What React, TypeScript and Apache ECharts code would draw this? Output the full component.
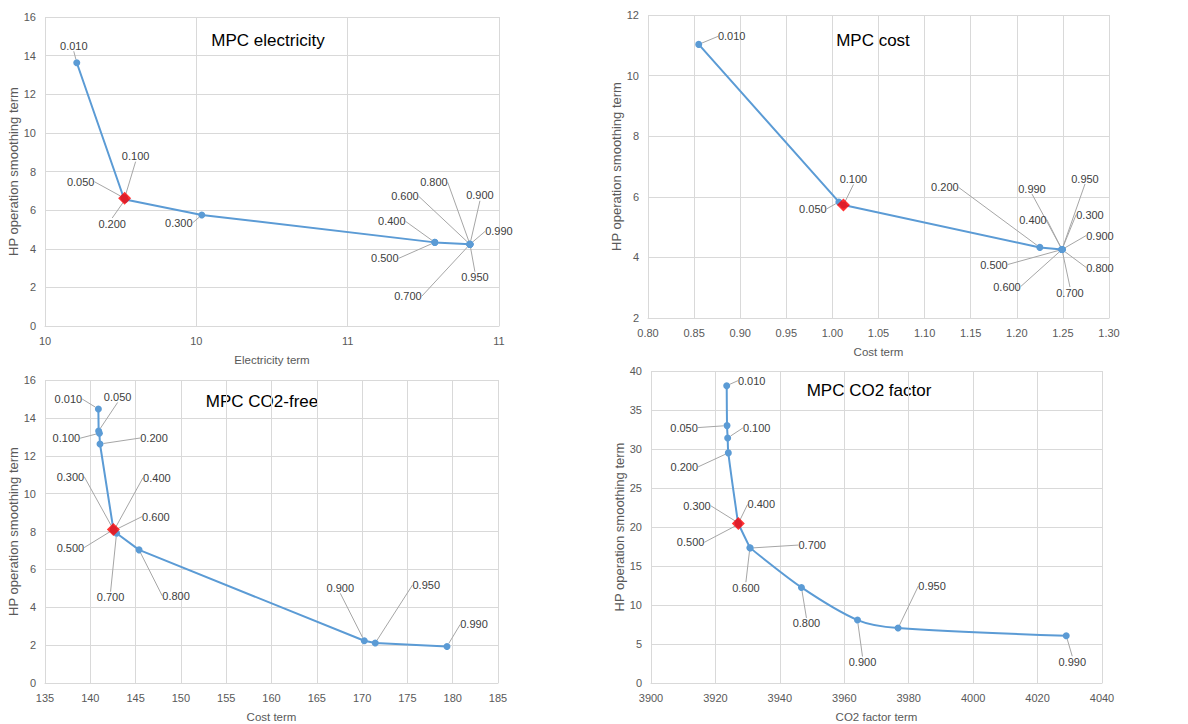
import React, { useEffect, useRef } from "react";
import * as echarts from "echarts";

const fontFamily = '"Liberation Sans", Arial, sans-serif';

// weights (label of each point)
const weights = [0.01, 0.05, 0.1, 0.2, 0.3, 0.4, 0.5, 0.6, 0.7, 0.8, 0.9, 0.95, 0.99];

// MPC electricity
const elecX = [9.605, 9.760, 9.763, 9.765, 10.018, 10.788, 10.788, 10.904, 10.904, 10.904, 10.904, 10.904, 10.904];
const elecY = [13.63, 6.64, 6.62, 6.55, 5.75, 4.33, 4.33, 4.23, 4.23, 4.23, 4.23, 4.23, 4.23];
const elecHighlight = [2];

// MPC cost
const costX = [0.855, 1.007, 1.012, 1.225, 1.249, 1.249, 1.249, 1.249, 1.249, 1.249, 1.249, 1.249, 1.249];
const costY = [11.03, 5.83, 5.73, 4.33, 4.26, 4.26, 4.26, 4.26, 4.26, 4.26, 4.26, 4.26, 4.26];
const costHighlight = [2];

// MPC CO2-free
const freeX = [140.89, 140.92, 141.0, 141.07, 142.55, 142.6, 142.55, 142.6, 142.9, 145.38, 170.24, 171.45, 179.37];
const freeY = [14.47, 13.31, 13.19, 12.62, 8.1, 8.05, 8.1, 8.05, 7.91, 7.03, 2.23, 2.11, 1.93];
const freeHighlight = [6];

// MPC CO2 factor
const fctX = [3923.5, 3923.6, 3923.8, 3924.0, 3927.0, 3927.1, 3927.2, 3930.7, 3930.8, 3946.7, 3964.1, 3976.7, 4028.9];
const fctY = [38.12, 33.0, 31.42, 29.5, 20.55, 20.45, 20.35, 17.35, 17.3, 12.25, 8.07, 7.04, 6.06];
const fctHighlight = [5];

// axis ranges
const xRanges = [
  { min: 9.5, max: 11, interval: 0.5 },
  { min: 0.8, max: 1.3, interval: 0.05 },
  { min: 135, max: 185, interval: 5 },
  { min: 3900, max: 4040, interval: 20 },
];
const yRanges = [
  { min: 0, max: 16, interval: 2 },
  { min: 2, max: 12, interval: 2 },
  { min: 0, max: 16, interval: 2 },
  { min: 0, max: 40, interval: 5 },
];
const xNames = ["Electricity term", "Cost term", "Cost term", "CO2 factor term"];
const yName = "HP operation smoothing term";
const titles = ["MPC electricity", "MPC cost", "MPC CO2-free", "MPC CO2 factor"];

// layout: label offsets (px, relative to point)
const elecOffsets = [[-3, -17], [-43, -16], [11, -42], [-13, 24], [-23, 8], [-43, -21], [-50, 16], [-65, -48], [-62, 52], [-36, -62], [10, -49], [5, 33], [29, -13]];
const costOffsets = [[33, -8], [-26, 7], [10, -26], [-95, -60], [28, -35], [-29, -30], [-68, 15], [-55, 37], [8, 43], [38, 18], [38, -14], [23, -71], [-30, -61]];
const freeOffsets = [[-30, -10], [19, -34], [-33, 5], [54, -6], [-43, -53], [43, -53], [-43, 18], [42, -14], [-6, 64], [37, 46], [-24, -53], [51, -58], [27, -22]];
const fctOffsets = [[25, -5], [-43, 2], [29, -10], [-44, 14], [-41, -17], [23, -19], [-48, 18], [-4, 40], [62, -3], [5, 36], [5, 42], [34, -42], [6, 26]];

const grids = [
  { left: 45, top: 17, width: 454, height: 309 },
  { left: 648, top: 15, width: 461, height: 303 },
  { left: 45, top: 380, width: 453, height: 303 },
  { left: 651, top: 371, width: 451, height: 312 },
];
const titlePos = [[268, 40], [873, 40], [262, 401], [869, 390]];

function xFormatter(i: number) {
  if (i === 0) return (v: number) => String(Math.round(v));
  if (i === 1) return (v: number) => v.toFixed(2);
  return (v: number) => String(Math.round(v));
}

function makeSeries(idx: number, xs: number[], ys: number[], offsets: number[][], highlight: number[], smooth: number | boolean) {
  const data = xs.map((x, i) => [x, ys[i]]);
  return [
    {
      type: "line",
      xAxisIndex: idx,
      yAxisIndex: idx,
      data,
      smooth,
      showAllSymbol: true,
      symbol: "circle",
      symbolSize: 7,
      itemStyle: { color: "#5B9BD5" },
      lineStyle: { color: "#5B9BD5", width: 2 },
      label: {
        show: true,
        position: "inside",
        formatter: (p: any) => weights[p.dataIndex].toFixed(3),
        color: "#404040",
        fontSize: 11,
        fontFamily,
      },
      labelLine: { show: true, lineStyle: { color: "#A6A6A6", width: 1 } },
      labelLayout: (p: any) => ({ dx: offsets[p.dataIndex][0], dy: offsets[p.dataIndex][1] }),
      emphasis: { disabled: true },
      z: 2,
    },
    {
      type: "scatter",
      xAxisIndex: idx,
      yAxisIndex: idx,
      data: highlight.map((i) => data[i]),
      symbol: "diamond",
      symbolSize: 13,
      itemStyle: { color: "#FF0000" },
      silent: true,
      z: 3,
    },
  ];
}

export default function App() {
  const ref = useRef<HTMLDivElement>(null);
  useEffect(() => {
    if (!ref.current) return;
    const chart = echarts.init(ref.current, undefined, { renderer: "svg" });
    const grid = "#D9D9D9";
    const option: any = {
      animation: false,
      backgroundColor: "#fff",
      textStyle: { fontFamily },
      grid: grids,
      xAxis: grids.map((_, i) => ({
        type: "value",
        gridIndex: i,
        ...xRanges[i],
        name: xNames[i],
        nameLocation: "middle",
        nameGap: 28,
        nameTextStyle: { color: "#595959", fontSize: 11.5, fontFamily },
        axisLine: { show: true, lineStyle: { color: grid } },
        axisTick: { show: false },
        splitLine: { show: true, lineStyle: { color: grid } },
        axisLabel: { color: "#595959", fontSize: 11, fontFamily, margin: 9, formatter: xFormatter(i) },
      })),
      yAxis: grids.map((_, i) => ({
        type: "value",
        gridIndex: i,
        ...yRanges[i],
        name: yName,
        nameLocation: "middle",
        nameGap: 23,
        nameTextStyle: { color: "#595959", fontSize: 13, fontFamily },
        axisLine: { show: false },
        axisTick: { show: false },
        splitLine: { show: true, lineStyle: { color: grid } },
        axisLabel: { color: "#595959", fontSize: 11, fontFamily, margin: 9 },
      })),
      graphic: titles.map((t, i) => ({
        type: "text",
        x: titlePos[i][0],
        y: titlePos[i][1],
        style: { text: t, fontSize: 17, fontFamily, fill: "#000", align: "center", verticalAlign: "middle" },
      })),
      series: [
        ...makeSeries(0, elecX, elecY, elecOffsets, elecHighlight, false),
        ...makeSeries(1, costX, costY, costOffsets, costHighlight, false),
        ...makeSeries(2, freeX, freeY, freeOffsets, freeHighlight, false),
        ...makeSeries(3, fctX, fctY, fctOffsets, fctHighlight, 0.3),
      ],
    };
    chart.setOption(option);
    return () => chart.dispose();
  }, []);
  return <div ref={ref} style={{ position: "absolute", left: 0, top: 0, width: 1188, height: 724 }} />;
}
